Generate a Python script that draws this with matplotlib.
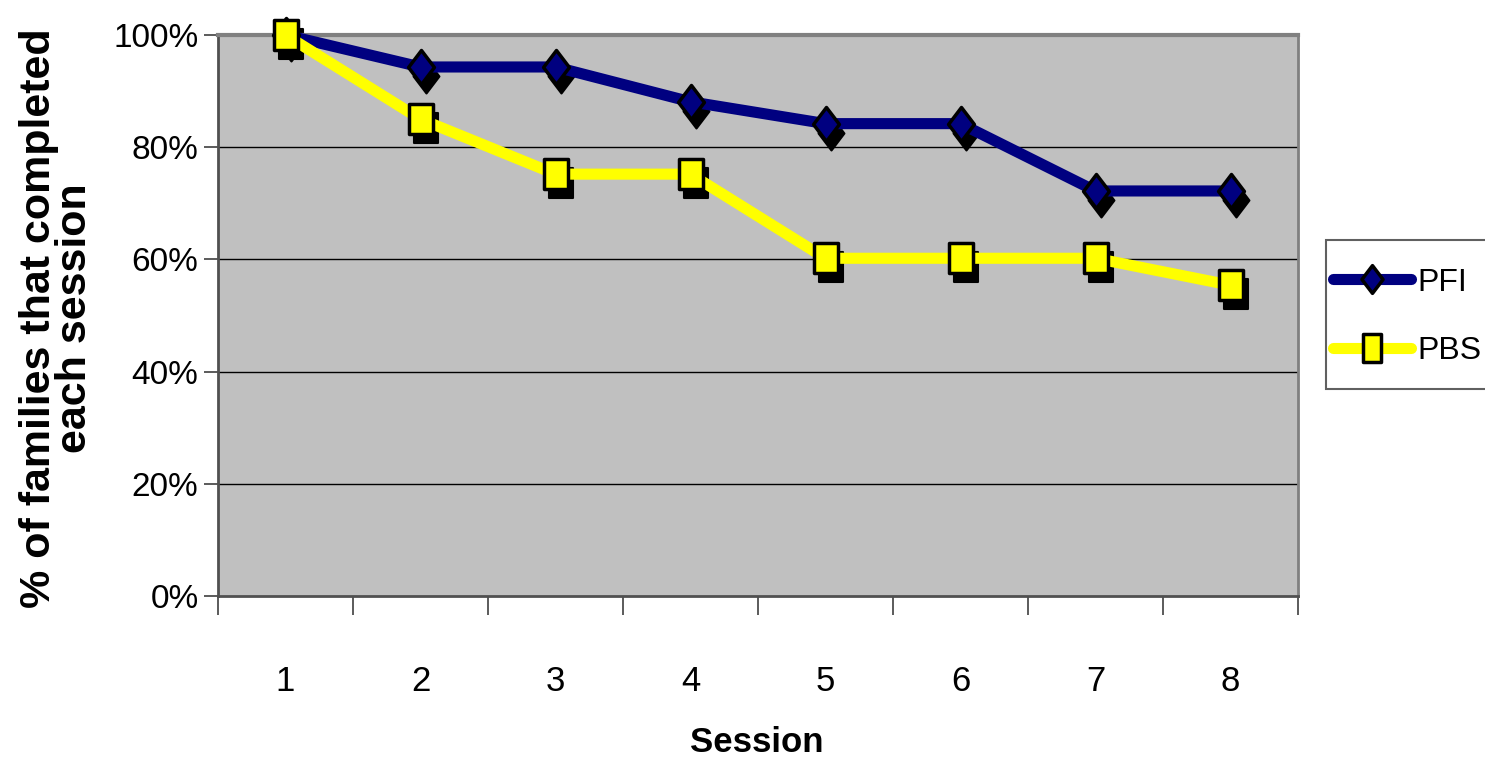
import matplotlib
matplotlib.use("Agg")
import matplotlib.pyplot as plt
import matplotlib.transforms as mtransforms
from matplotlib.path import Path
from matplotlib.lines import Line2D
from matplotlib.patches import Rectangle

sessions = [1, 2, 3, 4, 5, 6, 7, 8]
pfi = [1.00, 0.943, 0.943, 0.881, 0.842, 0.842, 0.722, 0.722]
pbs = [1.00, 0.850, 0.752, 0.752, 0.602, 0.602, 0.602, 0.554]
ytick_vals = [0, 0.2, 0.4, 0.6, 0.8, 1.0]
ytick_labels = ["0%", "20%", "40%", "60%", "80%", "100%"]

font = "Liberation Sans"
BLUE = "#000080"
YEL = "#ffff00"
W, H = 1485, 763

fig = plt.figure(figsize=(W/100, H/100), dpi=100)
ax = fig.add_axes([218/W, 1-596/H, (1298-218)/W, (596-35)/H])
ax.set_facecolor("#c0c0c0")

rect = Path([(-0.39, -0.5), (0.39, -0.5), (0.39, 0.5), (-0.39, 0.5), (-0.39, -0.5)],
            [Path.MOVETO, Path.LINETO, Path.LINETO, Path.LINETO, Path.CLOSEPOLY])
rect_leg = Path([(-0.34, -0.5), (0.34, -0.5), (0.34, 0.5), (-0.34, 0.5), (-0.34, -0.5)],
                [Path.MOVETO, Path.LINETO, Path.LINETO, Path.LINETO, Path.CLOSEPOLY])
diam = Path([(0, -0.5), (0.38, 0), (0, 0.5), (-0.38, 0), (0, -0.5)],
            [Path.MOVETO, Path.LINETO, Path.LINETO, Path.LINETO, Path.CLOSEPOLY])

shadow = mtransforms.offset_copy(ax.transData, fig=fig, x=5, y=-9, units="dots")

for y in ytick_vals[1:-1]:
    ax.axhline(y, color="black", lw=1.0, zorder=1)

# shadows
ax.plot(sessions, pfi, ls="none", marker=diam, ms=24.5, mfc="black", mec="black",
        mew=1.5, transform=shadow, zorder=2, clip_on=False)
ax.plot(sessions, pbs, ls="none", marker=rect, ms=22, mfc="black", mec="black",
        mew=1.5, transform=shadow, zorder=2, clip_on=False)

ax.plot(sessions, pfi, color=BLUE, lw=8, solid_capstyle="round", zorder=3, clip_on=False)
ax.plot(sessions, pbs, color=YEL, lw=8, solid_capstyle="round", zorder=3, clip_on=False)
ax.plot(sessions, pfi, ls="none", marker=diam, ms=24.5, mfc=BLUE, mec="black", mew=2.5,
        zorder=4, clip_on=False)
ax.plot(sessions, pbs, ls="none", marker=rect, ms=22, mfc=YEL, mec="black", mew=2.5,
        zorder=4, clip_on=False)

ax.set_xlim(0.5, 8.5)
ax.set_ylim(0, 1.0)
ax.set_xticks([i + 0.5 for i in range(0, 9)])
ax.set_xticklabels([])
ax.set_xticks(sessions, minor=True)
ax.set_xticklabels([str(s) for s in sessions], minor=True)
ax.tick_params(axis="x", which="major", direction="out", length=14, width=1.2,
               color="#404040")
ax.tick_params(axis="x", which="minor", length=0, pad=50, labelsize=25)
ax.set_yticks(ytick_vals)
ax.set_yticklabels(ytick_labels)
ax.tick_params(axis="y", direction="out", length=10, width=1.2, color="#404040",
               labelsize=24, pad=4)
for lab in ax.get_xticklabels(minor=True) + ax.get_yticklabels():
    lab.set_family(font)

ax.spines["left"].set_color("#505050")
ax.spines["left"].set_linewidth(2.0)
ax.spines["bottom"].set_color("#505050")
ax.spines["bottom"].set_linewidth(2.0)
ax.spines["top"].set_color("#808080")
ax.spines["top"].set_linewidth(3)
ax.spines["right"].set_color("#808080")
ax.spines["right"].set_linewidth(2)

fig.text(757/W, 1-743/H, "Session", ha="center", va="center",
         fontsize=25, fontweight="bold", family=font)
fig.text(57/W, 1-318/H, "% of families that completed\neach session",
         ha="center", va="center", rotation=90, fontsize=31, fontweight="bold",
         family=font, linespacing=0.85)

# legend frame (Excel-style box, clipped by the right edge)
fig.patches.append(Rectangle((1326/W, 1-389/H), 170/W, 149/H, transform=fig.transFigure,
                             facecolor="white", edgecolor="#606060", lw=1.5))
h1 = Line2D([], [], color=BLUE, lw=8, marker=diam, ms=20, mfc=BLUE,
            mec="black", mew=2.5, solid_capstyle="round")
h2 = Line2D([], [], color=YEL, lw=8, marker=rect_leg, ms=20, mfc=YEL,
            mec="black", mew=2.5, solid_capstyle="round")
leg = fig.legend([h1, h2], ["PFI", "PBS"], loc="center left",
                 bbox_to_anchor=(1333/W, 1-317/H), frameon=False,
                 prop={"family": font, "size": 23}, handlelength=2.45,
                 handletextpad=0.19, labelspacing=1.21,
                 borderpad=0, borderaxespad=0)

fig.savefig("out.png", dpi=100)
